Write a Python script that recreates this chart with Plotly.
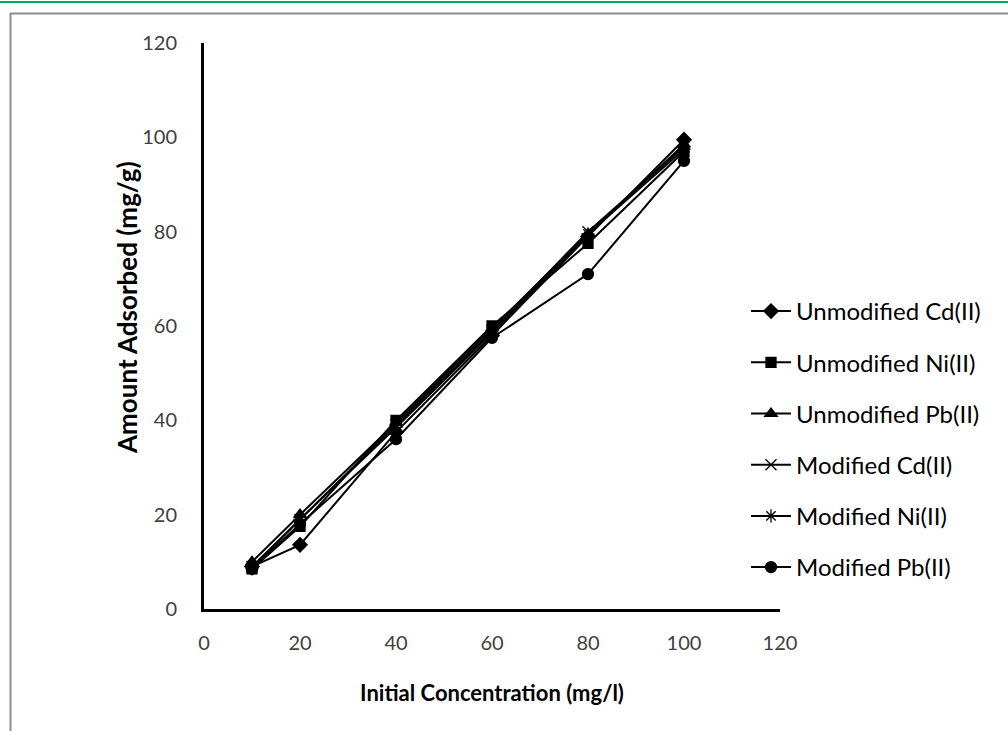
import plotly.graph_objects as go

conc = [10, 20, 40, 60, 80, 100]
unmod_cd = [9.0, 13.6, 37.5, 58.0, 79.0, 99.5]
unmod_ni = [8.5, 17.5, 40.0, 60.0, 77.5, 97.0]
unmod_pb = [10.0, 20.0, 39.5, 59.5, 79.5, 98.5]
mod_cd = [9.0, 19.0, 39.0, 59.0, 80.0, 98.0]
mod_ni = [8.5, 19.0, 38.5, 58.5, 79.5, 97.5]
mod_pb = [8.5, 18.0, 36.0, 57.5, 71.0, 95.0]

series = [
    ("Unmodified Cd(II)", unmod_cd, "diamond", 11),
    ("Unmodified Ni(II)", unmod_ni, "square", 10),
    ("Unmodified Pb(II)", unmod_pb, "triangle-up", 11),
    ("Modified Cd(II)", mod_cd, "x-thin-open", 11),
    ("Modified Ni(II)", mod_ni, "asterisk-open", 11),
    ("Modified Pb(II)", mod_pb, "circle", 11),
]

fig = go.Figure()
for i, (name, vals, sym, sz) in enumerate(series):
    fig.add_trace(go.Scatter(
        x=conc, y=vals, name=name, mode="lines+markers",
        legendgroup=f"g{i}",
        line=dict(color="black", width=2),
        marker=dict(symbol=sym, size=sz, color="black",
                    line=dict(color="black", width=1.3)),
    ))

L, R, T, B = 204, 228, 43, 122
W, H = 1008, 731
pw, ph = W - L - R, H - T - B

def px(x):
    return (x - L) / pw

def py(y):
    return (H - B - y) / ph

fig.update_layout(
    width=W, height=H,
    margin=dict(l=L, r=R, t=T, b=B),
    paper_bgcolor="white", plot_bgcolor="white",
    font=dict(family="Lato, 'Open Sans', sans-serif", color="#404040", size=20),
    showlegend=True,
    legend=dict(
        x=px(746), y=py(289), xanchor="left", yanchor="top",
        font=dict(size=24, color="black"),
        tracegroupgap=17, itemwidth=40,
        bgcolor="rgba(0,0,0,0)",
    ),
    xaxis=dict(
        range=[0, 120], tickvals=[0, 20, 40, 60, 80, 100, 120],
        showgrid=False, zeroline=False, showline=True,
        linecolor="black", linewidth=3, ticks="",
        tickfont=dict(size=20, color="#404040"),
        ticklabelstandoff=14,
        title=dict(text="<b>Initial Concentration (mg/l)</b>",
                   font=dict(size=22, color="black"), standoff=33),
    ),
    yaxis=dict(
        range=[0, 120], tickvals=[0, 20, 40, 60, 80, 100, 120],
        showgrid=False, zeroline=False, showline=True,
        linecolor="black", linewidth=3, ticks="",
        tickfont=dict(size=20, color="#404040"),
        ticklabelstandoff=20,
    ),
    annotations=[
        dict(text="<b>Amount Adsorbed (mg/g)</b>", textangle=-90,
             xref="paper", yref="paper", x=px(127), y=py(308),
             xanchor="center", yanchor="middle", showarrow=False,
             font=dict(size=26, color="black")),
    ],
    shapes=[
        dict(type="line", xref="paper", yref="paper",
             x0=px(0), x1=px(1008), y0=py(2), y1=py(2),
             line=dict(color="#00b050", width=2)),
        dict(type="line", xref="paper", yref="paper",
             x0=px(10), x1=px(1010), y0=py(13.5), y1=py(13.5),
             line=dict(color="#8c8c8c", width=2)),
        dict(type="line", xref="paper", yref="paper",
             x0=px(10.5), x1=px(10.5), y0=py(13), y1=py(735),
             line=dict(color="#8c8c8c", width=2)),
    ],
)

fig.write_html("out.html")
